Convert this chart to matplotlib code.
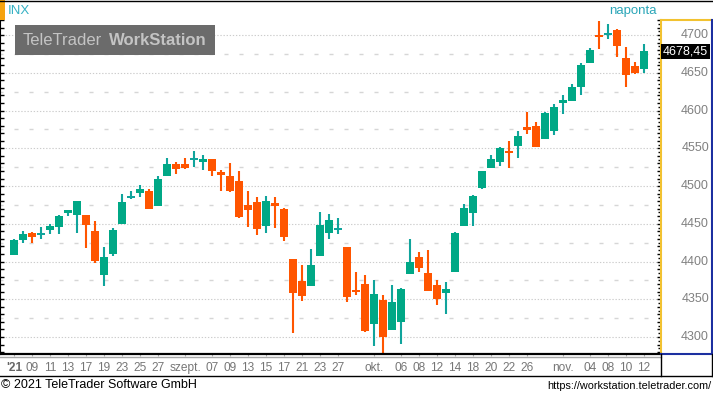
"""
INX daily candles, Aug - Nov 2021, TeleTrader style
"""
import matplotlib
matplotlib.use("Agg")
import matplotlib.pyplot as plt
from matplotlib.lines import Line2D
from matplotlib.patches import Rectangle
from matplotlib.transforms import blended_transform_factory

plt.rcParams['font.family'] = ['Liberation Sans', 'DejaVu Sans']

# daily OHLC, one entry per trading day (5 Aug .. 12 Nov)
opens = [4408.86, 4429.07, 4437.77, 4435.79, 4442.18, 4446.08, 4464.84, 4461.65, 4462.12, 4440.94,
         4382.44, 4410.56, 4450.29, 4484.40, 4490.45, 4493.75, 4474.10, 4513.76, 4529.75, 4528.80,
         4534.48, 4532.42, 4535.38, 4518.09, 4513.02, 4506.92, 4474.81, 4479.33, 4447.49, 4477.09,
         4469.74, 4402.95, 4374.45, 4367.43, 4406.75, 4438.04, 4442.12, 4419.54, 4362.41, 4370.67,
         4317.16, 4348.84, 4309.87, 4319.57, 4383.73, 4406.51, 4385.44, 4368.31, 4358.01, 4386.75,
         4447.69, 4463.72, 4497.34, 4524.42, 4532.24, 4546.12, 4553.69, 4578.69, 4580.22, 4562.84,
         4572.87, 4610.62, 4613.34, 4630.65, 4662.93, 4699.26, 4701.48, 4707.25, 4670.26, 4659.39,
         4655.24]
highs = [4429.76, 4440.82, 4439.39, 4445.21, 4449.44, 4461.77, 4468.37, 4480.26, 4462.12, 4454.32,
         4418.61, 4444.35, 4489.88, 4492.81, 4501.71, 4495.90, 4513.33, 4537.36, 4531.39, 4537.11,
         4545.85, 4541.45, 4535.38, 4521.79, 4529.90, 4520.47, 4492.99, 4485.68, 4486.87, 4485.87,
         4471.52, 4402.95, 4394.87, 4416.75, 4465.40, 4463.12, 4457.30, 4419.54, 4385.57, 4382.55,
         4375.19, 4355.51, 4369.23, 4365.57, 4429.97, 4412.02, 4415.88, 4374.89, 4372.87, 4439.73,
         4475.82, 4488.75, 4520.40, 4540.87, 4551.44, 4559.67, 4572.62, 4598.53, 4584.57, 4597.55,
         4608.08, 4620.34, 4635.15, 4663.46, 4683.00, 4718.50, 4714.92, 4708.53, 4684.85, 4664.55,
         4688.47]
lows = [4408.86, 4424.47, 4424.74, 4430.03, 4436.42, 4435.96, 4460.82, 4437.66, 4417.83, 4397.59,
        4367.73, 4406.80, 4450.29, 4482.28, 4485.66, 4468.99, 4474.10, 4513.76, 4515.80, 4522.02,
        4524.66, 4521.65, 4513.00, 4493.95, 4492.07, 4457.66, 4445.70, 4435.46, 4438.37, 4443.80,
        4427.76, 4305.91, 4347.96, 4367.43, 4406.75, 4430.27, 4436.19, 4346.33, 4355.08, 4306.24,
        4288.52, 4278.94, 4309.87, 4290.49, 4383.73, 4386.22, 4360.59, 4342.09, 4329.92, 4386.75,
        4447.69, 4447.47, 4496.41, 4524.40, 4526.89, 4524.00, 4537.36, 4569.17, 4551.66, 4562.84,
        4567.59, 4595.06, 4613.34, 4621.19, 4662.59, 4681.32, 4694.39, 4670.87, 4630.86, 4648.31,
        4650.42]
closes = [4429.10, 4436.52, 4432.35, 4436.75, 4447.70, 4460.83, 4468.00, 4479.71, 4448.08, 4400.27,
          4405.80, 4441.67, 4479.53, 4486.23, 4496.19, 4470.00, 4509.37, 4528.79, 4522.68, 4524.09,
          4536.95, 4535.43, 4520.03, 4514.07, 4493.28, 4458.58, 4468.73, 4443.05, 4480.70, 4473.75,
          4432.99, 4357.73, 4354.19, 4395.64, 4448.98, 4455.48, 4443.11, 4352.63, 4359.46, 4307.54,
          4357.04, 4300.46, 4345.72, 4363.55, 4399.76, 4391.34, 4361.19, 4350.65, 4363.80, 4438.26,
          4471.37, 4486.46, 4519.63, 4536.19, 4549.78, 4544.90, 4566.48, 4574.79, 4551.68, 4596.42,
          4605.38, 4613.67, 4630.65, 4660.57, 4680.06, 4697.53, 4701.70, 4685.25, 4646.71, 4649.27,
          4678.45]

# x axis labels: position = trading day index
tick_idx = [0, 2, 4, 6, 8, 10, 12, 14, 16, 19, 22, 24, 26, 28, 30, 32, 34, 36,
            40, 43, 45, 47, 49, 51, 53, 55, 57, 61, 64, 66, 68, 70]
tick_lbl = ["'21", "09", "11", "13", "17", "19", "23", "25", "27", "szept.", "07", "09", "13",
            "15", "17", "21", "23", "27", "okt.", "06", "08", "12", "14", "18", "20", "22", "26",
            "nov.", "04", "08", "10", "12"]
price_lbl = [4300, 4350, 4400, 4450, 4500, 4550, 4600, 4650, 4700]
last_price = closes[-1]

GREEN = '#00a886'
GREEN_WICK = '#10a49c'
ORANGE = '#ff5500'

W, H = 713, 393


def fx(x):
    return x / W


def fy(y):
    return 1 - y / H


fig = plt.figure(figsize=(W / 100, H / 100), dpi=100)
ax = fig.add_axes([0, fy(354), fx(661), (354 - 20) / H])
ax.set_xlim(-14 / 9, (661 - 14) / 9)
ax.set_ylim(4300 - 17 / 0.755, 4300 + 317 / 0.755)

# grid: dotted every 50, short dashes in between
ax.hlines(price_lbl, -2, 73, colors='#cccccc', linewidth=0.8, linestyles=[(0, (1.2, 1.6))], zorder=0)
ax.hlines([p + 25 for p in price_lbl], -2, 73, colors='#d6d6d6', linewidth=1,
          linestyles=[(0, (2.9, 7.9))], zorder=0)

# candles
for i in range(len(closes)):
    o, h, l, c = opens[i], highs[i], lows[i], closes[i]
    up = c >= o
    body_col = GREEN if up else ORANGE
    wick_col = GREEN_WICK if up else ORANGE
    ax.vlines(i, l, h, colors=wick_col, linewidth=1.5, zorder=2)
    hgt = abs(c - o)
    if hgt < 2.6:
        ax.bar(i, 2.6, bottom=(o + c) / 2 - 1.3, width=0.78, color=wick_col, linewidth=0, zorder=3)
    else:
        ax.bar(i, hgt, bottom=min(o, c), width=0.78, color=body_col, linewidth=0, zorder=3)

# axes styling
ax.spines['top'].set_visible(False)
ax.spines['left'].set_color('black')
ax.spines['bottom'].set_color('black')
ax.spines['bottom'].set_linewidth(1.6)
ax.spines['right'].set_color('#f2c230')
ax.spines['right'].set_linewidth(1.5)

ax.set_yticks(range(4280, 4721, 10))
ax.set_yticks(range(4280, 4721, 5), minor=True)
ax.tick_params(axis='y', which='major', left=True, right=True, direction='in', length=3,
               width=1, color='black', labelleft=False, labelright=False)
ax.tick_params(axis='y', which='minor', left=False, right=True, direction='in', length=2.2,
               width=1, color='black')

ax.set_xticks(tick_idx)
ax.set_xticklabels(tick_lbl)
ax.tick_params(axis='x', direction='out', length=1.5, color='#aaaaaa', pad=4,
               labelsize=8.6, labelcolor='#767676')
ax.get_xticklabels()[0].set_fontweight('bold')
ax.get_xticklabels()[0].set_color('#666666')

# price labels in the right panel
tr = blended_transform_factory(fig.transFigure, ax.transData)
for p in price_lbl:
    ax.text(fx(709), p, str(p), transform=tr, ha='right', va='center', fontsize=9,
            color='#808080', clip_on=False)
ax.text(fx(708), last_price, f"{last_price:.2f}".replace('.', ','), transform=tr, ha='right',
        va='center', fontsize=9, color='white', clip_on=False,
        bbox=dict(boxstyle='square,pad=0.12', fc='black', ec='none'))


def line(x0, y0, x1, y1, col, lw=1.0):
    fig.add_artist(Line2D([fx(x0), fx(x1)], [fy(y0), fy(y1)], color=col, linewidth=lw))


# frame pieces
line(0, 0.5, 713, 0.5, 'black')
line(661, 20, 711, 20, '#f2c230', 1.5)
line(711.5, 20, 711.5, 354, '#1c2fa0', 1.5)
line(661, 354, 712, 354, '#1c2fa0', 1.5)
line(0, 356.5, 661, 356.5, '#a8a8a8')
line(0, 376, 713, 376, 'black')
line(661, 354, 661, 376, 'black')
line(711.5, 354, 711.5, 376, 'black')

fig.add_artist(Rectangle((0, fy(20)), fx(5), 20 / H, color='#f5a30f', linewidth=0))
fig.text(fx(8), fy(11), 'INX', color='#35b1c4', fontsize=9.5, va='center')
fig.text(fx(657), fy(11), 'naponta', color='#2ba6b8', fontsize=9.5, va='center', ha='right')

# watermark
fig.add_artist(Rectangle((fx(15), fy(55)), fx(200), 30 / H, color='#6b6b6b', linewidth=0))
fig.text(fx(23), fy(40.5), 'TeleTrader', color='#c4c4c4', fontsize=12, va='center', ha='left')
fig.text(fx(207), fy(40.5), 'WorkStation', color='#c4c4c4', fontsize=12, va='center', ha='right',
         fontweight='bold')

# footer
fig.text(fx(1), fy(385), '\u00a9 2021 TeleTrader Software GmbH', fontsize=9, va='center')
fig.text(fx(711), fy(386), 'https://workstation.teletrader.com/', fontsize=7.8, va='center',
         ha='right')

fig.savefig('out.png', dpi=100)
